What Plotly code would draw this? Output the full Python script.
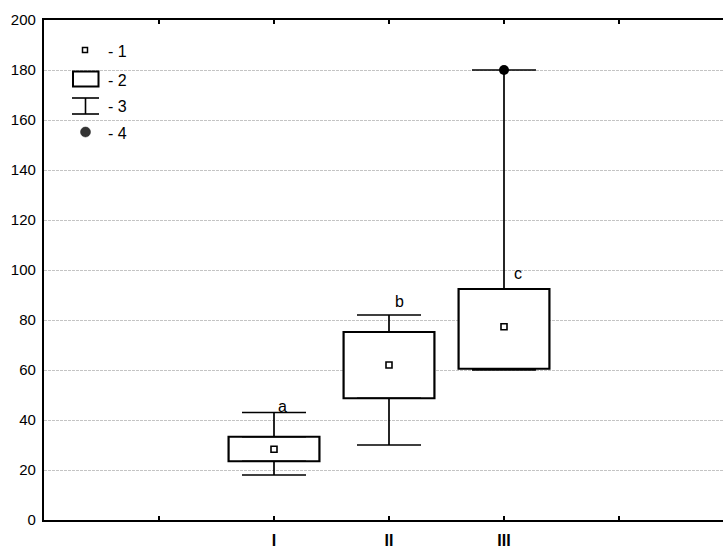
import plotly.graph_objects as go

# ---- data ----
groups = ["I", "II", "III"]
positions = [2, 3, 4]
lower_whisker = [18, 30, 60]
q1 = [23.5, 48.7, 60.5]
median_pt = [28.3, 62, 77.3]
q3 = [33.3, 75.2, 92.4]
upper_whisker = [43, 82, 180]
outlier_x = [4]
outlier_y = [180]
labels = ["a", "b", "c"]
label_x = [2.07, 3.09, 4.12]
label_y = [45.6, 87.6, 98.8]
y_ticks = list(range(0, 201, 20))
x_tickvals = [1, 2, 3, 4, 5]
x_ticktext = ["", "I", "II", "III", ""]
legend_items = ["- 1", "- 2", "- 3", "- 4"]

FONT = "Arial, Liberation Sans, sans-serif"

fig = go.Figure()

# boxes
fig.add_trace(go.Bar(
    x=positions,
    y=[b - a for a, b in zip(q1, q3)],
    base=q1,
    width=0.79,
    marker=dict(color="white", line=dict(color="black", width=2.2)),
    hoverinfo="skip",
))

# upper whiskers
fig.add_trace(go.Scatter(
    x=positions, y=q3, mode="markers",
    marker=dict(size=1, opacity=0),
    error_y=dict(type="data", symmetric=False,
                 array=[u - b for u, b in zip(upper_whisker, q3)],
                 arrayminus=[0, 0, 0],
                 color="black", thickness=1.7, width=32),
    hoverinfo="skip",
))
# lower whiskers
fig.add_trace(go.Scatter(
    x=positions, y=q1, mode="markers",
    marker=dict(size=1, opacity=0),
    error_y=dict(type="data", symmetric=False,
                 array=[0, 0, 0],
                 arrayminus=[a - l for a, l in zip(q1, lower_whisker)],
                 color="black", thickness=1.7, width=32),
    hoverinfo="skip",
))
# medians
fig.add_trace(go.Scatter(
    x=positions, y=median_pt, mode="markers",
    marker=dict(symbol="square", size=6, color="white",
                line=dict(color="black", width=1.6)),
    hoverinfo="skip",
))
# outlier
fig.add_trace(go.Scatter(
    x=outlier_x, y=outlier_y, mode="markers",
    marker=dict(symbol="circle", size=10, color="black"),
    hoverinfo="skip",
))

# letters
for t, xx, yy in zip(labels, label_x, label_y):
    fig.add_annotation(x=xx, y=yy, text=t, showarrow=False, xref="x", yref="y",
                       font=dict(family=FONT, size=16, color="black"))

# ---- custom legend (paper coordinates) ----
L, T, W, H = 44, 20, 679, 500
def px(x):
    return (x - L) / W
def py(y):
    return (T + H - y) / H

shapes = []
# 1: small square
shapes.append(dict(type="rect", xref="paper", yref="paper",
                   x0=px(82.5), x1=px(87.5), y0=py(52.5), y1=py(47.5),
                   line=dict(color="black", width=1.5), fillcolor="white"))
# 2: box
shapes.append(dict(type="rect", xref="paper", yref="paper",
                   x0=px(73), x1=px(98.5), y0=py(86.5), y1=py(71.5),
                   line=dict(color="black", width=2), fillcolor="white"))
# 3: whisker symbol
for (x0, y0, x1, y1) in [(72, 98, 99, 98), (85.5, 98, 85.5, 114), (72, 114, 99, 114)]:
    shapes.append(dict(type="line", xref="paper", yref="paper",
                       x0=px(x0), y0=py(y0), x1=px(x1), y1=py(y1),
                       line=dict(color="black", width=1.6)))
# 4: dot
shapes.append(dict(type="circle", xref="paper", yref="paper",
                   x0=px(80.5), x1=px(90.5), y0=py(137), y1=py(127),
                   line=dict(color="#222222", width=0.5), fillcolor="#333333"))
for i, (txt, yc) in enumerate(zip(legend_items, [52, 80, 106, 133])):
    fig.add_annotation(x=px(106), y=py(yc), xref="paper", yref="paper",
                       text=txt, showarrow=False, xanchor="left", yanchor="middle",
                       font=dict(family=FONT, size=16, color="black"))

fig.update_layout(
    width=723, height=549,
    margin=dict(l=L, r=0, t=T, b=549 - T - H),
    paper_bgcolor="white", plot_bgcolor="white",
    showlegend=False,
    shapes=shapes,
    font=dict(family=FONT, size=14, color="black"),
)
fig.update_xaxes(
    range=[0, W / 115.0],
    tickvals=x_tickvals, ticktext=[f"<b>{t}</b>" if t else "" for t in x_ticktext],
    ticks="inside", ticklen=4, tickwidth=1.5, tickcolor="black",
    showline=True, linecolor="black", linewidth=2, mirror="ticks",
    showgrid=False, zeroline=False,
    tickfont=dict(family=FONT, size=16, color="black"),
    ticklabelstandoff=5,
)
fig.update_yaxes(
    range=[0, 200], tickvals=y_ticks,
    showline=True, linecolor="black", linewidth=2.2,
    ticks="", showgrid=True, gridcolor="#c4c4c4", gridwidth=1, griddash="3px,1px",
    zeroline=False,
    tickfont=dict(family=FONT, size=15, color="black"),
    ticklabelstandoff=3,
)

fig.write_html(
    "out.html",
    config={"displayModeBar": False},
    post_script="document.body.style.margin='0';document.body.style.overflow='hidden';",
)
